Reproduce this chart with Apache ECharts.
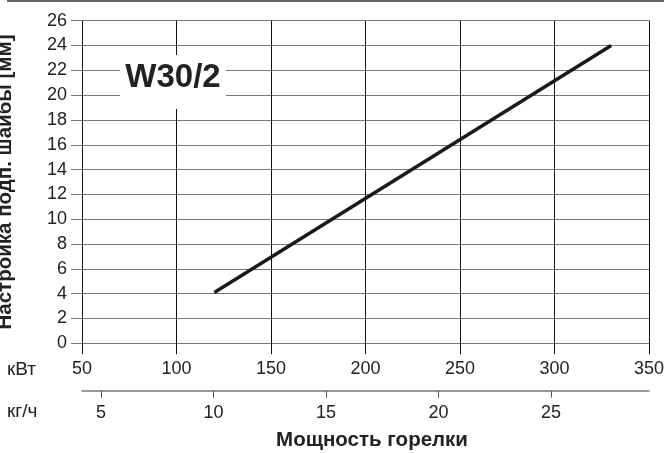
<!DOCTYPE html>
<html><head><meta charset="utf-8">
<script src="https://cdn.jsdelivr.net/npm/echarts@6/dist/echarts.min.js"></script>
<style>html,body{margin:0;padding:0;background:#fff}#c{width:664px;height:453px}</style>
</head><body><div id="c"></div>
<script>
// Data
const burnerPowerKW = [120, 330];
const discSettingMM = [4.1, 24];
const kwTicks = [50, 100, 150, 200, 250, 300, 350];
const kghTicks = [5, 10, 15, 20, 25];
const yTicks = [0, 2, 4, 6, 8, 10, 12, 14, 16, 18, 20, 22, 24, 26];
const chartLabel = 'W30/2';
const yTitle = 'Настройка подп. шайбы [мм]';
const xTitle = 'Мощность горелки';
const unitKW = 'кВт';
const unitKGH = 'кг/ч';

const FONT = 'Liberation Sans, Arial, sans-serif';
const chart = echarts.init(document.getElementById('c'), null, {renderer: 'canvas'});
const seriesData = burnerPowerKW.map((x, i) => [x, discSettingMM[i]]);

chart.setOption({
  animation: false,
  backgroundColor: '#fff',
  grid: {left: 82, right: 15, top: 20.7, bottom: 109.7, containLabel: false, outerBoundsMode: 'none'},
  xAxis: [{
    type: 'value', position: 'bottom',
    min: kwTicks[0], max: kwTicks[kwTicks.length - 1], interval: 50,
    axisLine: {show: false},
    axisTick: {show: true, length: 11, lineStyle: {color: '#111', width: 1}},
    splitLine: {show: true, lineStyle: {color: '#111', width: 1}},
    axisLabel: {margin: 17, fontFamily: FONT, fontSize: 18, color: '#222'}
  }, {
    type: 'value', position: 'bottom', offset: 47.4,
    min: 4.16, max: 29.36,
    axisLine: {show: true, lineStyle: {color: '#777', width: 1.5}},
    axisTick: {show: true, length: 7, customValues: kghTicks, lineStyle: {color: '#555', width: 1}},
    splitLine: {show: false},
    axisLabel: {margin: 13, fontFamily: FONT, fontSize: 18, color: '#222', customValues: kghTicks}
  }],
  yAxis: {
    type: 'value', min: yTicks[0], max: yTicks[yTicks.length - 1], interval: 2,
    axisLine: {show: false},
    axisTick: {show: true, length: 11, lineStyle: {color: '#777', width: 1}},
    splitLine: {show: true, lineStyle: {color: '#777', width: 1}},
    axisLabel: {margin: 15, fontFamily: FONT, fontSize: 18, color: '#222'},
    name: yTitle, nameLocation: 'middle', nameGap: 66,
    nameTextStyle: {fontFamily: FONT, fontSize: 20.5, fontWeight: 'bold', color: '#222'}
  },
  series: [{
    type: 'line', xAxisIndex: 0, data: seriesData,
    symbol: 'none', lineStyle: {color: '#1a1a1a', width: 3.5}, z: 5
  }],
  graphic: [
    {type: 'line', shape: {x1: 7, y1: 1, x2: 664, y2: 1}, style: {stroke: '#333', lineWidth: 1.5}},
    {type: 'rect', shape: {x: 120, y: 55, width: 106, height: 54}, style: {fill: '#fff'}, z: 10},
    {type: 'text', x: 173, y: 78, z: 11, style: {text: chartLabel, font: 'bold 33px ' + FONT, fill: '#222', align: 'center', verticalAlign: 'middle'}},
    {type: 'text', x: 7, y: 370, style: {text: unitKW, font: '19px ' + FONT, fill: '#222', align: 'left', verticalAlign: 'middle'}},
    {type: 'text', x: 7, y: 412, style: {text: unitKGH, font: '19px ' + FONT, fill: '#222', align: 'left', verticalAlign: 'middle'}},
    {type: 'text', x: 372, y: 440, style: {text: xTitle, font: 'bold 20.5px ' + FONT, fill: '#222', align: 'center', verticalAlign: 'middle'}}
  ]
});
</script></body></html>
